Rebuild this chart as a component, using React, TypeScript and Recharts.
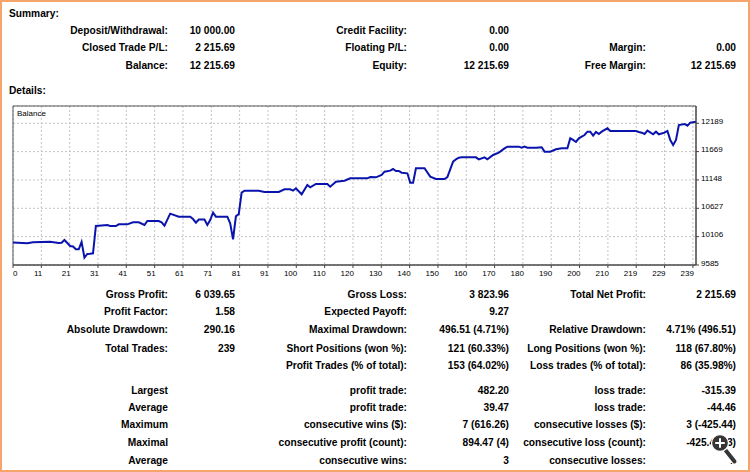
import React from "react";
import { LineChart, Line, XAxis, YAxis, CartesianGrid, ReferenceArea } from "recharts";

const trades = [
  0, 5, 7, 13, 16, 17, 18, 20, 21, 22, 23, 24, 25, 26, 27, 28, 29, 31, 33, 34, 36, 37, 40, 42, 44, 46, 47, 51, 52, 53,
  55, 58, 62, 63, 64, 65, 67, 68, 69, 70, 71, 75, 76, 77, 78, 79, 80, 81, 86, 88, 93, 95, 97, 98, 99, 101, 103, 104,
  106, 110, 111, 113, 116, 118, 124, 125, 127, 129, 130, 132, 133, 134, 135, 136, 138, 139, 140, 141, 144, 146, 148,
  151, 152, 154, 155, 156, 157, 162, 163, 165, 166, 168, 170, 172, 173, 177, 178, 179, 180, 183, 185, 186, 188, 190,
  192, 194, 195, 196, 197, 198, 199, 200, 201, 202, 203, 204, 205, 206, 208, 209, 218, 219, 220, 221, 222, 224, 225,
  226, 228, 229, 230, 231, 232, 233, 235, 236, 237, 239,
];
const balances = [
  10000, 9985, 10005, 10010, 9990, 9995, 10045, 9934, 9925, 9873, 9873, 10010, 9720, 9787, 9790, 9800, 10302, 10310,
  10320, 10302, 10300, 10332, 10332, 10369, 10369, 10320, 10394, 10394, 10369, 10308, 10529, 10473, 10473, 10430,
  10363, 10420, 10420, 10320, 10412, 10547, 10473, 10473, 10350, 10057, 10480, 10520, 10914, 10951, 10951, 10927,
  10927, 10976, 10976, 10951, 10994, 10884, 11055, 11013, 11074, 11074, 11025, 11116, 11135, 11178, 11178, 11200,
  11196, 11239, 11300, 11319, 11349, 11313, 11313, 11282, 11270, 11098, 11098, 11362, 11362, 11208, 11166, 11166,
  11200, 11484, 11527, 11558, 11564, 11564, 11527, 11564, 11527, 11607, 11650, 11729, 11760, 11760, 11742, 11760,
  11742, 11742, 11748, 11668, 11668, 11711, 11729, 11729, 11913, 11883, 11846, 11913, 11944, 11974, 12035, 12035,
  11962, 12030, 11993, 12035, 12097, 12048, 12048, 12030, 12017, 11993, 12054, 11987, 12035, 11987, 12017, 12048,
  11880, 11791, 11883, 12158, 12177, 12146, 12201, 12216,
];

const xTickLabels = [
  "0", "11", "21", "31", "41", "51", "61", "71", "81", "91", "100", "110", "120", "130", "140", "150", "160",
  "170", "180", "190", "200", "210", "219", "229", "239",
];
const yTicks = [9585, 10106, 10627, 11148, 11669, 12189];
const yDomain: [number, number] = [9585, 12507];
const xDomain: [number, number] = [0, 239];
const xTickStep = 9.913;
const xTicks = xTickLabels.map((_, j) => j * xTickStep);

const summaryRows = [
  ["Deposit/Withdrawal:", "10 000.00", "Credit Facility:", "0.00", "", ""],
  ["Closed Trade P/L:", "2 215.69", "Floating P/L:", "0.00", "Margin:", "0.00"],
  ["Balance:", "12 215.69", "Equity:", "12 215.69", "Free Margin:", "12 215.69"],
];
const summaryRowY = [31, 48, 66];

const detailRows = [
  ["Gross Profit:", "6 039.65", "Gross Loss:", "3 823.96", "Total Net Profit:", "2 215.69"],
  ["Profit Factor:", "1.58", "Expected Payoff:", "9.27", "", ""],
  ["Absolute Drawdown:", "290.16", "Maximal Drawdown:", "496.51 (4.71%)", "Relative Drawdown:", "4.71% (496.51)"],
  ["Total Trades:", "239", "Short Positions (won %):", "121 (60.33%)", "Long Positions (won %):", "118 (67.80%)"],
  ["", "", "Profit Trades (% of total):", "153 (64.02%)", "Loss trades (% of total):", "86 (35.98%)"],
  ["Largest", "", "profit trade:", "482.20", "loss trade:", "-315.39"],
  ["Average", "", "profit trade:", "39.47", "loss trade:", "-44.46"],
  ["Maximum", "", "consecutive wins ($):", "7 (616.26)", "consecutive losses ($):", "3 (-425.44)"],
  ["Maximal", "", "consecutive profit (count):", "894.47 (4)", "consecutive loss (count):", "-425.44 (3)"],
  ["Average", "", "consecutive wins:", "3", "consecutive losses:", "1"],
];
const detailRowY = [295, 312, 330, 349, 366, 391, 408, 425, 443, 461];

const colRight = [168, 235, 407, 509, 646, 736];

const data = trades.map((t, i) => ({ trade: t, balance: balances[i] }));

const FONT = "'Liberation Sans', Arial, sans-serif";

const textStyle: React.CSSProperties = {
  position: "absolute",
  fontFamily: FONT,
  fontWeight: "bold",
  fontSize: 10.2,
  lineHeight: "14px",
  color: "#000",
  whiteSpace: "nowrap",
};

function Cell({ text, right, y }: { text: string; right: number; y: number }) {
  if (!text) return null;
  return (
    <div style={{ ...textStyle, left: right - 300, width: 300, textAlign: "right", top: y - 7 }}>{text}</div>
  );
}

const XTick = (props: any) => {
  const { x, y, index } = props;
  const first = index === 0;
  return (
    <text
      x={first ? x : x + 1}
      y={y}
      dy="0.71em"
      textAnchor={first ? "start" : "end"}
      fontSize={8}
      fontFamily={FONT}
      fill="#000"
    >
      {xTickLabels[index]}
    </text>
  );
};

const YTick = (props: any) => {
  const { x, y, payload } = props;
  return (
    <text x={x} y={y - 2} dy="0.355em" textAnchor="start" fontSize={8} fontFamily={FONT} fill="#000">
      {payload.value}
    </text>
  );
};

export default function App() {
  return (
    <div
      style={{
        position: "absolute",
        left: 0,
        top: 0,
        width: 750,
        height: 472,
        background: "#fff",
        overflow: "hidden",
      }}
    >
      <div style={{ ...textStyle, left: 9, top: 14 - 7 }}>Summary:</div>
      {summaryRows.map((row, r) =>
        row.map((cell, c) => <Cell key={`s${r}-${c}`} text={cell} right={colRight[c]} y={summaryRowY[r]} />)
      )}
      <div style={{ ...textStyle, left: 9, top: 91 - 7 }}>Details:</div>

      <div style={{ position: "absolute", left: 0, top: 100 }}>
        <LineChart width={750} height={180} data={data} margin={{ top: 6, right: 0, bottom: 0, left: 13 }}>
          <CartesianGrid stroke="#c4c4c4" strokeDasharray="2 2" />
          <XAxis
            dataKey="trade"
            type="number"
            domain={xDomain}
            ticks={xTicks}
            interval={0}
            height={15}
            tickSize={3}
            tickMargin={2}
            tick={<XTick />}
            axisLine={{ stroke: "#444" }}
            tickLine={{ stroke: "#444" }}
            allowDataOverflow
          />
          <YAxis
            orientation="right"
            type="number"
            domain={yDomain}
            ticks={yTicks}
            interval={0}
            width={54}
            tickSize={3}
            tickMargin={2}
            tick={<YTick />}
            axisLine={{ stroke: "#444" }}
            tickLine={{ stroke: "#444" }}
            allowDataOverflow
          />
          <ReferenceArea
            x1={xDomain[0]}
            x2={xDomain[1]}
            y1={yDomain[0]}
            y2={yDomain[1]}
            fill="none"
            stroke="#555"
            strokeWidth={1}
          />
          <Line
            type="linear"
            dataKey="balance"
            stroke="#0a14ac"
            strokeWidth={2}
            dot={false}
            isAnimationActive={false}
          />
        </LineChart>
      </div>
      <div
        style={{
          position: "absolute",
          left: 17,
          top: 109,
          fontFamily: FONT,
          fontSize: 8,
          lineHeight: "10px",
          color: "#000",
        }}
      >
        Balance
      </div>

      {detailRows.map((row, r) =>
        row.map((cell, c) => <Cell key={`d${r}-${c}`} text={cell} right={colRight[c]} y={detailRowY[r]} />)
      )}

      <svg style={{ position: "absolute", left: 0, top: 0 }} width={750} height={472} pointerEvents="none">
        <line x1={725} y1={449.5} x2={734.5} y2={461.5} stroke="#fff" strokeWidth={6.5} strokeLinecap="round" />
        <line x1={725} y1={449.5} x2={734.5} y2={461.5} stroke="#363636" strokeWidth={4} strokeLinecap="round" />
        <circle cx={720} cy={443} r={8.5} fill="#363636" stroke="#fff" strokeWidth={1.3} />
        <line x1={715.2} y1={443} x2={724.8} y2={443} stroke="#fff" strokeWidth={2} />
        <line x1={720} y1={438.2} x2={720} y2={447.8} stroke="#fff" strokeWidth={2} />
        <rect x={1} y={1} width={748} height={470} fill="none" stroke="#f5a46c" strokeWidth={2} />
      </svg>
    </div>
  );
}
